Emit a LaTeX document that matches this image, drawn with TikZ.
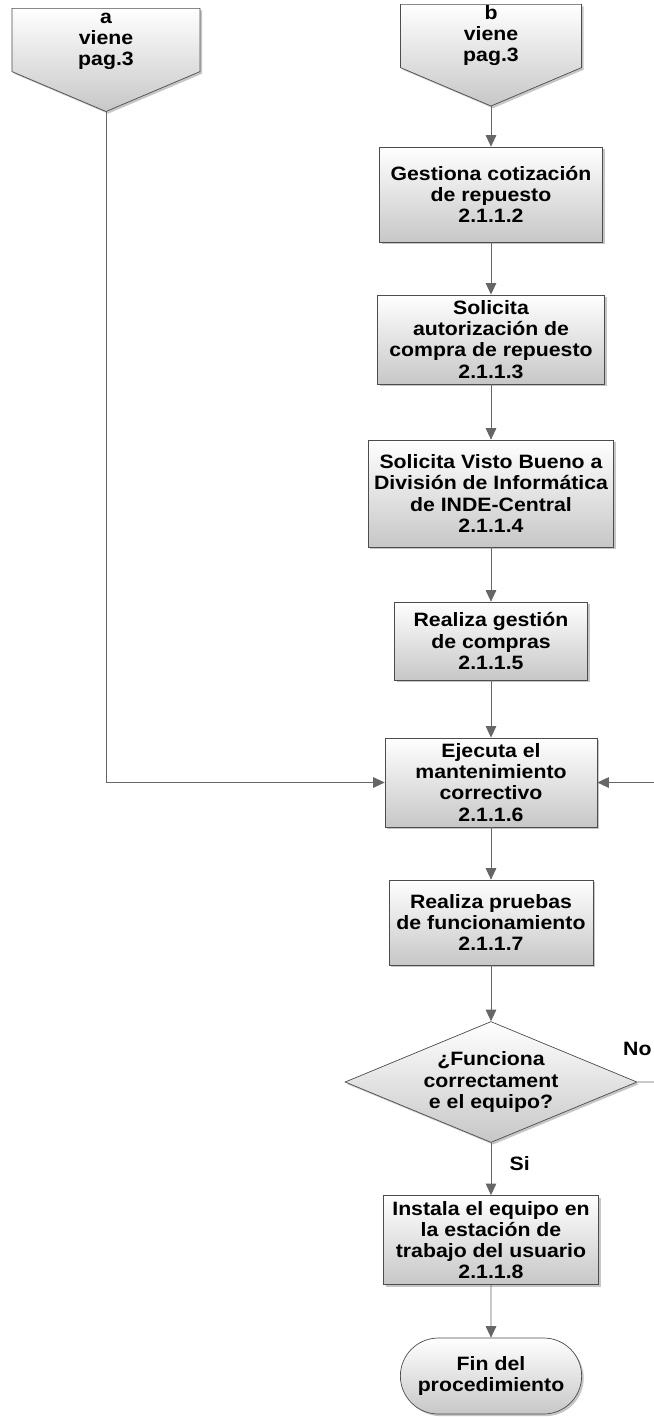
\documentclass[tikz,border=0pt]{standalone}
\usepackage{fontspec}
\setmainfont{Liberation Sans}[FakeStretch=1.1]
\usetikzlibrary{shapes.geometric,shapes.misc,shapes.symbols,shadows,arrows.meta}

\tikzset{
  proc/.style={draw=black!70, rectangle, align=center, top color=white, bottom color=black!22,
    drop shadow={shadow xshift=1.2pt, shadow yshift=-1.2pt, opacity=0.45}},
  offpage/.style={proc, signal, signal to=south, signal pointer angle=134, inner ysep=0pt},
  decision/.style={proc, diamond, aspect=2.4, inner sep=0pt},
  term/.style={proc, rounded rectangle},
  line/.style={draw=black!60, ->}
}
\newcommand{\conn}[1]{\begin{tabular}{@{}c@{}}#1\end{tabular}}

\begin{document}
\begin{tikzpicture}[node distance=2.9cm, >={Triangle[length=6.5pt,width=6pt]},
    font=\fontsize{11}{12}\selectfont\bfseries]
  \useasboundingbox (0,0) rectangle (13.08,-28.34);

  \node (a) [offpage, anchor=north, minimum width=3.76cm, minimum height=1.2cm] at (2.12,-0.16) {\conn{a\\viene\\pag.3}};
  \node (b) [offpage, anchor=north, minimum width=3.62cm, minimum height=1.42cm] at (9.82,-0.08) {\conn{b\\viene\\pag.3}};

  \node (gest) [proc, minimum width=4.46cm, minimum height=1.9cm] at (9.82,-3.89) {Gestiona cotización\\de repuesto\\2.1.1.2};
  \node (autor) [proc, below of=gest, minimum width=4.54cm, minimum height=1.74cm] {Solicita\\autorización de\\compra de repuesto\\2.1.1.3};
  \node (visto) [proc, below of=autor, node distance=3.08cm, minimum width=4.9cm, minimum height=2.14cm] {Solicita Visto Bueno a\\División de Informática\\de INDE-Central\\2.1.1.4};
  \node (compras) [proc, below of=visto, node distance=2.95cm, minimum width=3.86cm, minimum height=1.56cm] {Realiza gestión\\de compras\\2.1.1.5};
  \node (ejec) [proc, below of=compras, node distance=2.83cm, minimum width=4.24cm, minimum height=1.78cm] {Ejecuta el\\mantenimiento\\correctivo\\2.1.1.6};
  \node (pruebas) [proc, below of=ejec, node distance=2.8cm, minimum width=4.08cm, minimum height=1.7cm] {Realiza pruebas\\de funcionamiento\\2.1.1.7};
  \node (dec) [decision, below of=pruebas, node distance=3.19cm, minimum width=5.84cm, minimum height=2.42cm] {¿Funciona\\correctament\\e el equipo?};
  \node (inst) [proc, below of=dec, node distance=3.16cm, minimum width=4.3cm, minimum height=1.72cm] {Instala el equipo en\\la estación de\\trabajo del usuario\\2.1.1.8};
  \node (fin) [term, below of=inst, node distance=2.72cm, minimum width=3.86cm, minimum height=1.52cm] {Fin del\\procedimiento};

  \coordinate (ret) at (13.12,-21.64);

  \draw [line] (b) -- (gest);
  \draw [line] (gest) -- (autor);
  \draw [line] (autor) -- (visto);
  \draw [line] (visto) -- (compras);
  \draw [line] (compras) -- (ejec);
  \draw [line] (ejec) -- (pruebas);
  \draw [line] (pruebas) -- (dec);
  \draw [line] (dec) -- node[right=0.25cm, pos=0.4] {Si} (inst);
  \draw [line] (inst) -- (fin);
  \draw [line] (a.south) |- (ejec.west);
  \draw [line] (dec.east) -- node[pos=0, above=0.4cm] {No} (ret) |- (ejec.east);
\end{tikzpicture}
\end{document}
